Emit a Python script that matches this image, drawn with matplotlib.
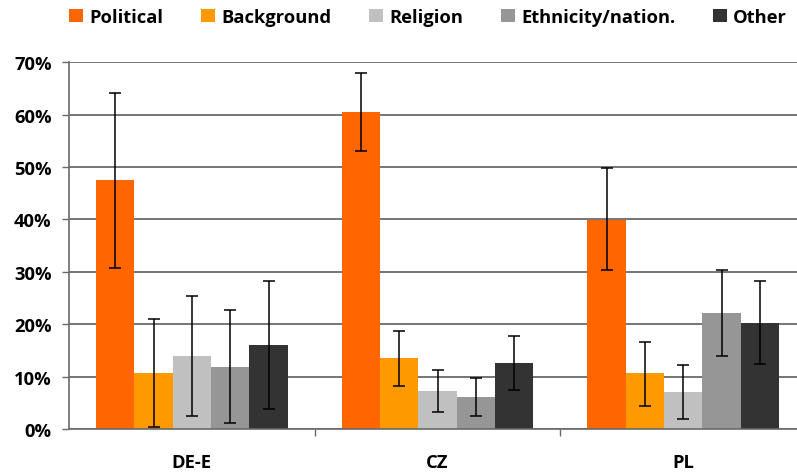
import numpy as np
import matplotlib.pyplot as plt
from matplotlib.ticker import FuncFormatter, MultipleLocator

# Dữ liệu
countries = ['DE-E', 'CZ', 'PL']
series = ['Political', 'Background', 'Religion', 'Ethnicity/nation.', 'Other']
colors = ['#FF6600', '#FF9900', '#C0C0C0', '#969696', '#333333']

values = {
    'Political':         [47.6, 60.6, 39.9],
    'Background':        [10.7, 13.6, 10.7],
    'Religion':          [13.9, 7.3, 7.1],
    'Ethnicity/nation.': [11.8, 6.1, 22.2],
    'Other':             [16.0, 12.6, 20.3],
}
err_low = {
    'Political':         [30.7, 53.0, 30.3],
    'Background':        [0.4, 8.2, 4.4],
    'Religion':          [2.4, 3.3, 2.0],
    'Ethnicity/nation.': [1.1, 2.4, 13.9],
    'Other':             [3.8, 7.5, 12.4],
}
err_high = {
    'Political':         [64.1, 68.0, 49.8],
    'Background':        [21.0, 18.8, 16.6],
    'Religion':          [25.4, 11.3, 12.2],
    'Ethnicity/nation.': [22.7, 9.7, 30.3],
    'Other':             [28.3, 17.7, 28.3],
}

plt.rcParams['font.family'] = ['Open Sans', 'DejaVu Sans']
plt.rcParams['font.weight'] = 'bold'

W, H = 797, 477
fs = 13.2
fig = plt.figure(figsize=(W / 100, H / 100), dpi=100)
# vùng vẽ: trái 69px, đáy 430px, trên 63px, mỗi nhóm rộng ~245.7px
ax = fig.add_axes([69 / W, 1 - 430 / H, 3 * 245.7 / W, (430 - 63.3) / H])

x = np.arange(len(countries))
bw = 0.156
for i, s in enumerate(series):
    pos = x + (i - 2) * bw
    v = np.array(values[s])
    lo = v - np.array(err_low[s])
    hi = np.array(err_high[s]) - v
    ax.bar(pos, v, bw, color=colors[i], label=s, zorder=2)
    ax.errorbar(pos, v, yerr=[lo, hi], fmt='none', ecolor='black',
                elinewidth=1.1, capsize=4.5, capthick=1.1, zorder=3)

ax.set_xlim(-0.5, 2.5)
ax.set_ylim(0, 70)
ax.yaxis.set_major_locator(MultipleLocator(10))
ax.yaxis.set_major_formatter(FuncFormatter(lambda v, p: f'{v:.0f}%'))
ax.grid(axis='y', color='#6a6a6a', linewidth=1.3, zorder=0)
ax.set_axisbelow(True)

ax.set_xticks(x)
ax.set_xticklabels(countries)
ax.set_xticks([0.5, 1.5], minor=True)
ax.tick_params(axis='x', which='major', length=0, pad=17, labelsize=fs)
ax.tick_params(axis='x', which='minor', length=5, width=1, color='#6a6a6a', direction='out')
ax.tick_params(axis='y', length=5, width=1, color='#6a6a6a', pad=7.5, labelsize=fs)

for sp in ['top', 'right']:
    ax.spines[sp].set_visible(False)
ax.spines['left'].set_color('#6a6a6a')
ax.spines['bottom'].set_color('#6a6a6a')
ax.spines['left'].set_linewidth(1.2)
ax.spines['bottom'].set_linewidth(1.2)

fig.legend(loc='center left', bbox_to_anchor=(69 / W, 1 - 18 / H), ncol=5,
           frameon=False, fontsize=fs, handlelength=0.78, handleheight=0.72,
           handletextpad=0.33, columnspacing=2.05, borderpad=0, borderaxespad=0)

fig.savefig('out.png', dpi=100)
